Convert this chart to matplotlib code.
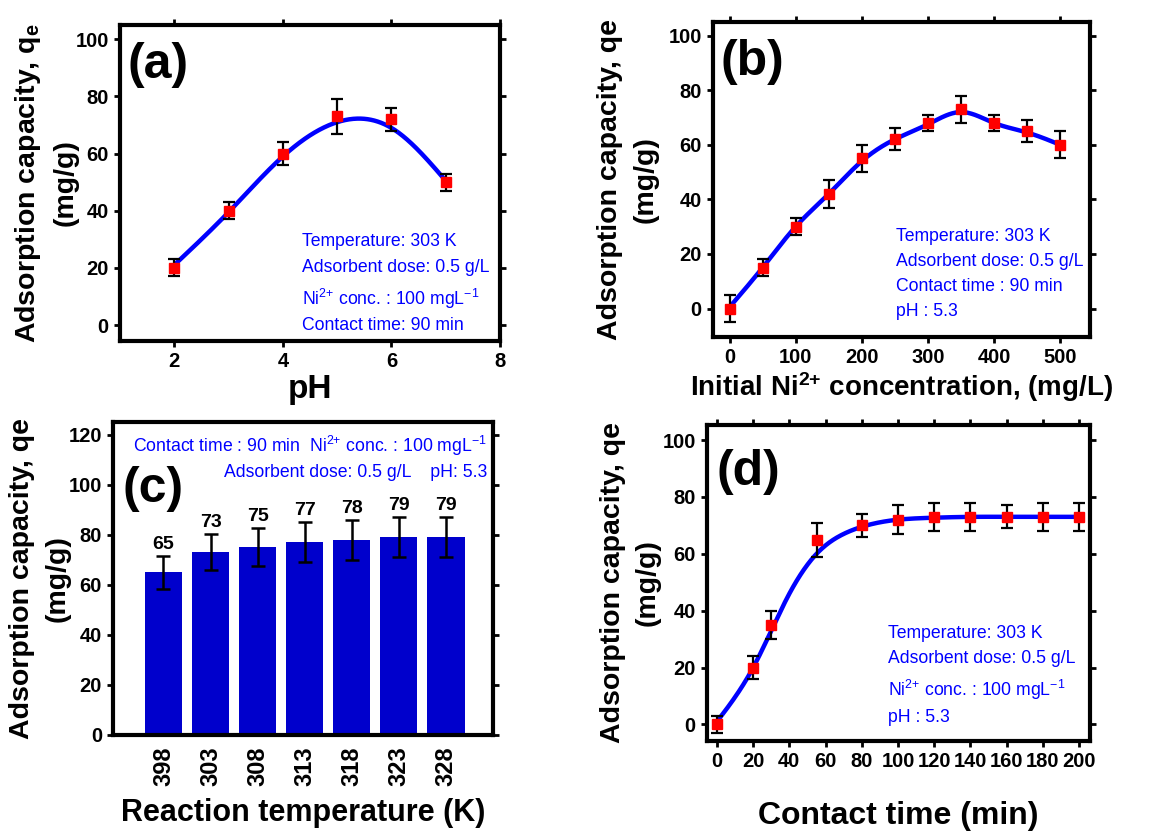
import numpy as np
import matplotlib
matplotlib.use('Agg')
import matplotlib.pyplot as plt

plt.rcParams['font.family'] = ['Liberation Sans', 'DejaVu Sans']
plt.rcParams['mathtext.default'] = 'regular'

# (a) effect of pH
ph = [2, 3, 4, 5, 6, 7]
qe_ph = [20, 40, 60, 73, 72, 50]
err_ph = [3, 3, 4, 6, 4, 3]
fit_ph = [21, 39.5, 59, 71, 69, 50.5]

# (b) initial concentration
conc = [0, 50, 100, 150, 200, 250, 300, 350, 400, 450, 500]
qe_conc = [0, 15, 30, 42, 55, 62, 68, 73, 68, 65, 60]
err_conc = [5, 3, 3, 5, 5, 4, 3, 5, 3, 4, 5]
fit_conc = [0.5, 15, 30, 42, 54, 62, 67.5, 72, 68, 64.5, 60]

# (c) reaction temperature
temps = ['398', '303', '308', '313', '318', '323', '328']
qe_temp = [65, 73, 75, 77, 78, 79, 79]
err_temp = [6.5, 7.3, 7.5, 8, 8, 8, 8]

# (d) contact time
ctime = [0, 20, 30, 55, 80, 100, 120, 140, 160, 180, 200]
qe_time = [0, 20, 35, 65, 70, 72, 73, 73, 73, 73, 73]
err_time = [3, 4, 5, 6, 4, 5, 5, 5, 4, 5, 5]
fit_tx = [0, 20, 30, 40, 55, 70, 80, 100, 120, 140, 160, 180, 200]
fit_ty = [1, 20, 33, 46, 60, 67, 69.5, 72, 72.7, 73, 73, 73, 73]

BLUE = '#0000FF'
NI = 'Ni$^{2{+}}$'


def spline(x, y, n=400):
    # natural cubic spline, only for drawing the smooth fit line
    x = np.asarray(x, float)
    y = np.asarray(y, float)
    m = len(x)
    h = np.diff(x)
    A = np.zeros((m, m))
    b = np.zeros(m)
    A[0, 0] = 1
    A[-1, -1] = 1
    for i in range(1, m - 1):
        A[i, i - 1] = h[i - 1]
        A[i, i] = 2 * (h[i - 1] + h[i])
        A[i, i + 1] = h[i]
        b[i] = 6 * ((y[i + 1] - y[i]) / h[i] - (y[i] - y[i - 1]) / h[i - 1])
    M = np.linalg.solve(A, b)
    xs = np.linspace(x[0], x[-1], n)
    k = np.clip(np.searchsorted(x, xs) - 1, 0, m - 2)
    t1 = x[k + 1] - xs
    t0 = xs - x[k]
    hk = h[k]
    ys = (M[k] * t1 ** 3 + M[k + 1] * t0 ** 3) / (6 * hk) \
        + (y[k] / hk - M[k] * hk / 6) * t1 + (y[k + 1] / hk - M[k + 1] * hk / 6) * t0
    return xs, ys


def style(ax, tsize=14.5):
    for s in ax.spines.values():
        s.set_linewidth(3)
    ax.tick_params(axis='both', which='major', length=4, width=2, labelsize=tsize, pad=4)
    ax.tick_params(axis='x', top=True, direction='out')
    ax.tick_params(axis='y', right=True, direction='out')
    for lab in ax.get_xticklabels() + ax.get_yticklabels():
        lab.set_fontweight('bold')


def ylab(ax, first, xpos):
    ax.set_ylabel(first + '\n(mg/g)', fontsize=20.5, fontweight='bold', linespacing=1.45)
    ax.yaxis.set_label_coords(xpos, 0.5)


def notes(ax, lines, x, ys):
    for t, yy in zip(lines, ys):
        ax.text(x, yy, t, transform=ax.transAxes, color=BLUE, fontsize=12.7, va='baseline', ha='left')


def points(ax, x, y, e):
    ax.errorbar(x, y, yerr=e, fmt='s', color='red', ms=7.5, ecolor='black',
                elinewidth=1.6, capsize=4.5, capthick=1.6, zorder=4)


fig = plt.figure(figsize=(11.74, 8.32), dpi=100)

# ---------- (a)
ax = fig.add_axes([0.1022, 0.5901, 0.3237, 0.3798])
xs, ys = spline(ph, fit_ph)
ax.plot(xs, ys, color=BLUE, lw=3.2, zorder=3)
points(ax, ph, qe_ph, err_ph)
ax.set_xlim(1, 8)
ax.set_ylim(-5.6, 105)
ax.set_xticks([2, 4, 6, 8])
ax.set_yticks([0, 20, 40, 60, 80, 100])
style(ax)
ax.set_xlabel('pH', fontsize=24, fontweight='bold')
ax.xaxis.set_label_coords(0.5, -0.105)
ylab(ax, 'Adsorption capacity, q$_e$', -0.11)
ax.text(0.02, 0.945, '(a)', transform=ax.transAxes, fontsize=36, fontweight='bold', va='top')
notes(ax, ['Temperature: 303 K', 'Adsorbent dose: 0.5 g/L',
           NI + ' conc. : 100 mgL$^{-1}$', 'Contact time: 90 min'],
      0.479, [0.30, 0.218, 0.114, 0.035])

# ---------- (b)
ax = fig.add_axes([0.6073, 0.5950, 0.3211, 0.3786])
xs, ys = spline(conc, fit_conc)
ax.plot(xs, ys, color=BLUE, lw=3.2, zorder=3)
points(ax, conc, qe_conc, err_conc)
ax.set_xlim(-25, 545)
ax.set_ylim(-10.4, 105)
ax.set_xticks([0, 100, 200, 300, 400, 500])
ax.set_yticks([0, 20, 40, 60, 80, 100])
style(ax)
ax.set_xlabel('Initial ' + NI + ' concentration, (mg/L)', fontsize=20, fontweight='bold')
ax.xaxis.set_label_coords(0.5, -0.105)
ylab(ax, 'Adsorption capacity, qe', -0.145)
ax.text(0.019, 0.945, '(b)', transform=ax.transAxes, fontsize=36, fontweight='bold', va='top')
notes(ax, ['Temperature: 303 K', 'Adsorbent dose: 0.5 g/L',
           'Contact time : 90 min', 'pH : 5.3'],
      0.485, [0.305, 0.225, 0.146, 0.067])

# ---------- (c)
ax = fig.add_axes([0.0963, 0.1166, 0.3237, 0.3762])
pos = np.arange(len(temps))
ax.bar(pos, qe_temp, width=0.79, color='#0000CC', zorder=2)
ax.errorbar(pos, qe_temp, yerr=err_temp, fmt='none', ecolor='black',
            elinewidth=1.8, capsize=5, capthick=1.8, zorder=3)
for p, v, e in zip(pos, qe_temp, err_temp):
    ax.text(p, v + e + 1.2, str(v), ha='center', va='bottom', fontsize=14, fontweight='bold')
ax.set_xlim(-1.07, 7.0)
ax.set_ylim(0, 125)
ax.set_xticks(pos)
ax.set_xticklabels(temps, rotation=90)
ax.set_yticks([0, 20, 40, 60, 80, 100, 120])
style(ax)
ax.tick_params(axis='x', length=0, labelsize=17, pad=8)
ax.tick_params(axis='x', top=False)
ax.set_xlabel('Reaction temperature (K)', fontsize=22, fontweight='bold')
ax.xaxis.set_label_coords(0.5, -0.2)
ylab(ax, 'Adsorption capacity, qe', -0.112)
ax.text(0.024, 0.86, '(c)', transform=ax.transAxes, fontsize=36, fontweight='bold', va='top')
ax.text(0.984, 0.904, 'Contact time : 90 min  ' + NI + ' conc. : 100 mgL$^{-1}$',
        transform=ax.transAxes, color=BLUE, fontsize=12.7, ha='right', va='baseline')
ax.text(0.984, 0.824, 'Adsorbent dose: 0.5 g/L    pH: 5.3',
        transform=ax.transAxes, color=BLUE, fontsize=12.7, ha='right', va='baseline')

# ---------- (d)
ax = fig.add_axes([0.6022, 0.1094, 0.3262, 0.3798])
xs, ys = spline(fit_tx, fit_ty)
ax.plot(xs, ys, color=BLUE, lw=3.2, zorder=3)
points(ax, ctime, qe_time, err_time)
ax.set_xlim(-5.5, 206)
ax.set_ylim(-5.8, 105.3)
ax.set_xticks(np.arange(0, 201, 20))
ax.set_yticks([0, 20, 40, 60, 80, 100])
style(ax)
ax.set_xlabel('Contact time (min)', fontsize=23, fontweight='bold')
ax.xaxis.set_label_coords(0.5, -0.19)
ylab(ax, 'Adsorption capacity, qe', -0.12)
ax.text(0.026, 0.925, '(d)', transform=ax.transAxes, fontsize=36, fontweight='bold', va='top')
notes(ax, ['Temperature: 303 K', 'Adsorbent dose: 0.5 g/L',
           NI + ' conc. : 100 mgL$^{-1}$', 'pH : 5.3'],
      0.473, [0.327, 0.248, 0.142, 0.061])

fig.savefig('out.png', dpi=100)
